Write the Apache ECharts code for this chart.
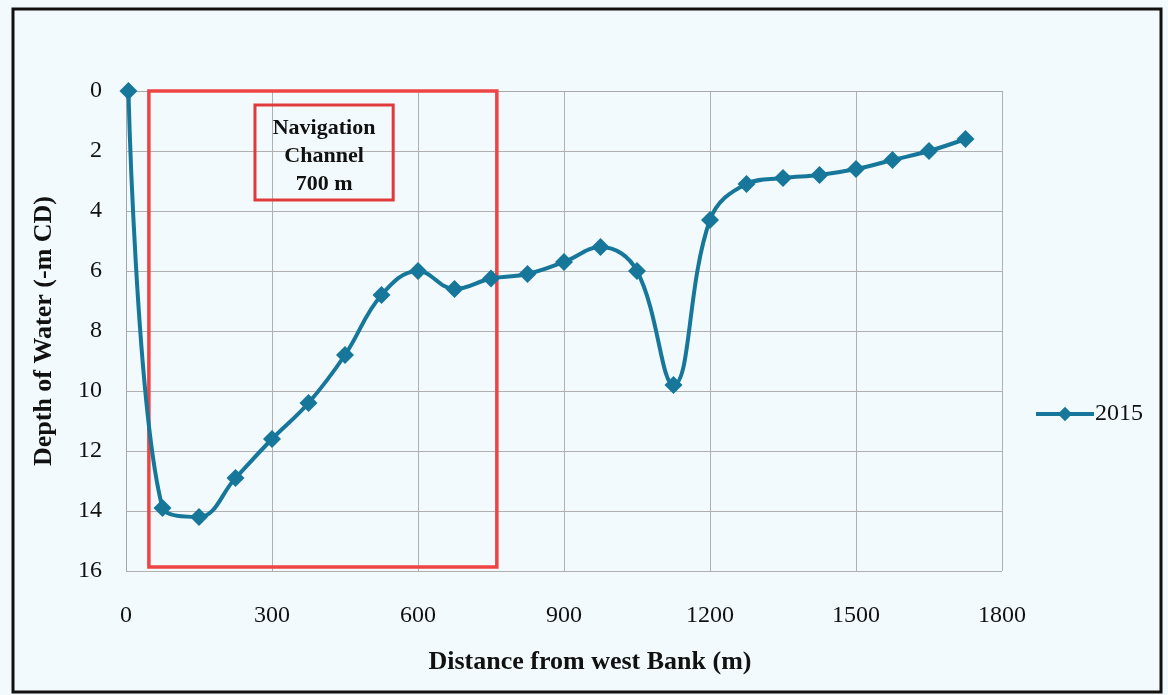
<!DOCTYPE html>
<html>
<head>
<meta charset="utf-8">
<script src="https://cdn.jsdelivr.net/npm/echarts@6/dist/echarts.min.js"></script>
<style>
html,body{margin:0;padding:0;background:#f2fafd;}
#chart{width:1168px;height:695px;}
</style>
</head>
<body>
<div id="chart"></div>
<script>
// Data
const distances = [5, 75, 150, 225, 300, 375, 450, 525, 600, 675, 750, 825, 900, 975, 1050, 1125, 1200, 1275, 1350, 1425, 1500, 1575, 1650, 1725];
const depth2015 = [0, 13.9, 14.2, 12.9, 11.6, 10.4, 8.8, 6.8, 6.0, 6.6, 6.25, 6.1, 5.7, 5.2, 6.0, 9.8, 4.3, 3.1, 2.9, 2.8, 2.6, 2.3, 2.0, 1.6];
const seriesName = '2015';
const xTicks = [0, 300, 600, 900, 1200, 1500, 1800];
const yTicks = [0, 2, 4, 6, 8, 10, 12, 14, 16];
// Annotation boxes (data coordinates)
const channelBox = [[47, 0], [762, 15.87]];
const labelBox = [[265, 0.47], [549, 3.63]];
const labelText = 'Navigation\nChannel\n700 m';

const serif = '"Liberation Serif", "Times New Roman", serif';
const chart = echarts.init(document.getElementById('chart'));
chart.setOption({
  backgroundColor: '#f2fafd',
  animation: false,
  graphic: [{
    type: 'rect',
    shape: {x: 13, y: 9, width: 1148, height: 683},
    style: {fill: 'none', stroke: '#111', lineWidth: 3},
    silent: true
  }],
  grid: {left: 126, top: 91, right: 166, bottom: 124},
  legend: {
    data: [seriesName],
    left: 1029, top: 397,
    itemWidth: 58, itemHeight: 18, itemGap: 4,
    lineStyle: {width: 4},
    textStyle: {fontFamily: serif, fontSize: 24, color: '#111', padding: [0, 0, 0, -4]}
  },
  xAxis: {
    type: 'value', min: 0, max: 1800, interval: 300,
    name: 'Distance from west Bank (m)', nameLocation: 'middle', nameGap: 78,
    nameTextStyle: {fontFamily: serif, fontSize: 26, fontWeight: 'bold', color: '#111', padding: [0, 0, 0, 52]},
    axisLine: {show: true, lineStyle: {color: '#a8a8a8', width: 1}},
    axisTick: {show: false},
    axisLabel: {fontFamily: serif, fontSize: 24, color: '#111', margin: 33,
      formatter: v => xTicks.includes(v) ? String(v) : ''},
    splitLine: {show: true, lineStyle: {color: '#b0b0b0', width: 1}}
  },
  yAxis: {
    type: 'value', min: 0, max: 16, interval: 2, inverse: true,
    name: 'Depth of Water (-m CD)', nameLocation: 'middle', nameGap: 69,
    nameTextStyle: {fontFamily: serif, fontSize: 26, fontWeight: 'bold', color: '#111'},
    axisLine: {show: true, lineStyle: {color: '#a8a8a8', width: 1}},
    axisTick: {show: false},
    axisLabel: {fontFamily: serif, fontSize: 24, color: '#111', margin: 24,
      formatter: v => yTicks.includes(v) ? String(v) : ''},
    splitLine: {show: true, lineStyle: {color: '#b0b0b0', width: 1}}
  },
  series: [{
    name: seriesName,
    type: 'line',
    data: distances.map((d, i) => [d, depth2015[i]]),
    smooth: 0.4,
    symbol: 'diamond',
    symbolSize: 18,
    lineStyle: {color: '#17779a', width: 4},
    itemStyle: {color: '#17779a'},
    z: 5,
    markArea: {
      silent: true,
      data: [
        [{coord: channelBox[0], itemStyle: {color: 'rgba(0,0,0,0)', borderColor: '#ee4444', borderWidth: 3.5}},
         {coord: channelBox[1]}],
        [{coord: labelBox[0], itemStyle: {color: 'rgba(0,0,0,0)', borderColor: '#e03a3a', borderWidth: 3},
          label: {show: true, position: 'inside', formatter: labelText, fontFamily: serif, fontSize: 22,
            fontWeight: 'bold', color: '#111', lineHeight: 28, align: 'center', offset: [0, 4]}},
         {coord: labelBox[1]}]
      ]
    }
  }]
});
</script>
</body>
</html>
